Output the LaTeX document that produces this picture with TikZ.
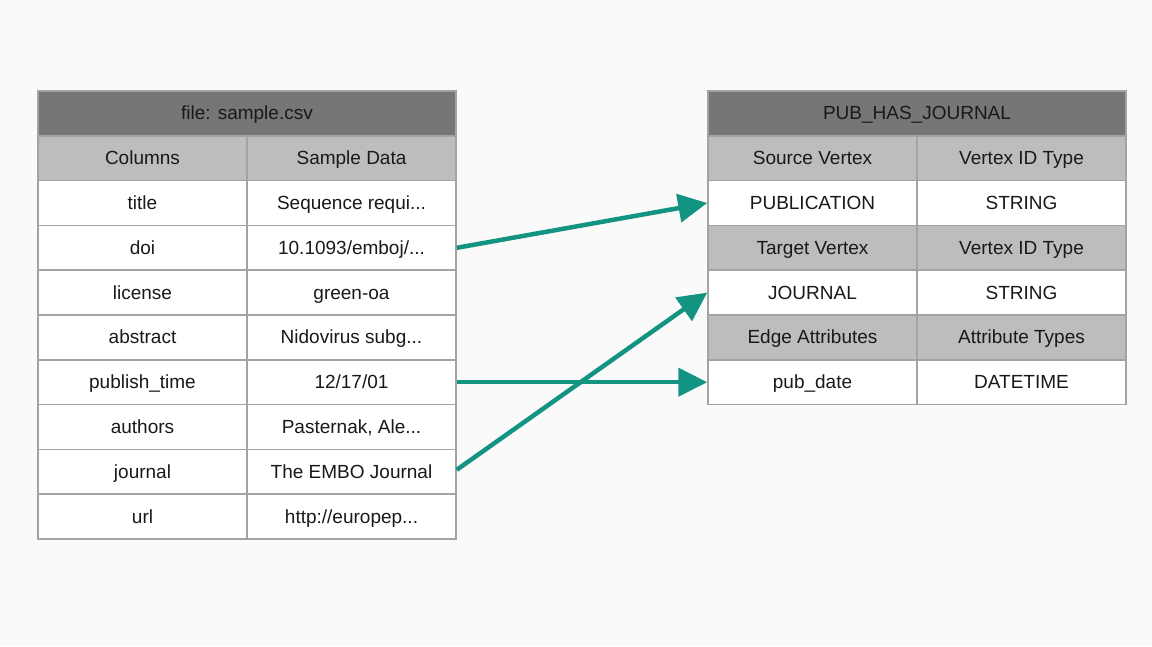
\documentclass[tikz,border=0pt]{standalone}
\usepackage{fontspec}
\setmainfont{Liberation Sans}
\usetikzlibrary{arrows.meta}
\definecolor{hdr}{HTML}{767676}
\definecolor{sub}{HTML}{BDBDBD}
\definecolor{brd}{HTML}{A3A3A3}
\definecolor{teal}{HTML}{139483}
\tikzset{
  cell/.style={draw=brd, line width=1.5pt, fill=white, minimum width=209pt, minimum height=44.8pt,
    inner sep=0pt, text height=13.5pt, text depth=0.5pt, font=\fontsize{19}{22}\selectfont, text=black!90},
  subcell/.style={cell, fill=sub},
  hdrcell/.style={cell, fill=hdr, minimum width=418pt},
  link/.style={draw=teal, line width=4.5pt, -{Triangle[length=29pt,width=28pt]}, shorten >=0pt}
}
\begin{document}
\begin{tikzpicture}[x=1pt,y=-1pt]
\useasboundingbox[fill=white!98!black] (0,0) rectangle (1152,646);
% left table
\node[hdrcell] (lh) at (247,113.4) {file: sample.csv};
\node[subcell] (lc1) at (142.5,158.2) {Columns};
\node[subcell] (lc2) at (351.5,158.2) {Sample Data};
\node[cell] (title) at (142.5,203) {title};
\node[cell] (titled) at (351.5,203) {Sequence requi...};
\node[cell] (doi) at (142.5,247.8) {doi};
\node[cell] (doid) at (351.5,247.8) {10.1093/emboj/...};
\node[cell] (lic) at (142.5,292.6) {license};
\node[cell] (licd) at (351.5,292.6) {green-oa};
\node[cell] (abs) at (142.5,337.4) {abstract};
\node[cell] (absd) at (351.5,337.4) {Nidovirus subg...};
\node[cell] (pub) at (142.5,382.2) {publish\_time};
\node[cell] (pubd) at (351.5,382.2) {12/17/01};
\node[cell] (auth) at (142.5,427) {authors};
\node[cell] (authd) at (351.5,427) {Pasternak, Ale...};
\node[cell] (jour) at (142.5,471.8) {journal};
\node[cell] (jourd) at (351.5,471.8) {The EMBO Journal};
\node[cell] (url) at (142.5,516.6) {url};
\node[cell] (urld) at (351.5,516.6) {http://europep...};
% right table
\node[hdrcell] (rh) at (917,113.4) {PUB\_HAS\_JOURNAL};
\node[subcell] (sv) at (812.5,158.2) {Source Vertex};
\node[subcell] (svt) at (1021.5,158.2) {Vertex ID Type};
\node[cell] (pubv) at (812.5,203) {PUBLICATION};
\node[cell] (pubvt) at (1021.5,203) {STRING};
\node[subcell] (tv) at (812.5,247.8) {Target Vertex};
\node[subcell] (tvt) at (1021.5,247.8) {Vertex ID Type};
\node[cell] (jv) at (812.5,292.6) {JOURNAL};
\node[cell] (jvt) at (1021.5,292.6) {STRING};
\node[subcell] (ea) at (812.5,337.4) {Edge Attributes};
\node[subcell] (eat) at (1021.5,337.4) {Attribute Types};
\node[cell] (pd) at (812.5,382.2) {pub\_date};
\node[cell] (pdt) at (1021.5,382.2) {DATETIME};
% links
\draw[link] (doid.east) -- (pubv.west);
\draw[link] (pubd.east) -- (pd.west);
\draw[link] ([yshift=2pt]jourd.east) -- (jv.west);
\end{tikzpicture}
\end{document}
